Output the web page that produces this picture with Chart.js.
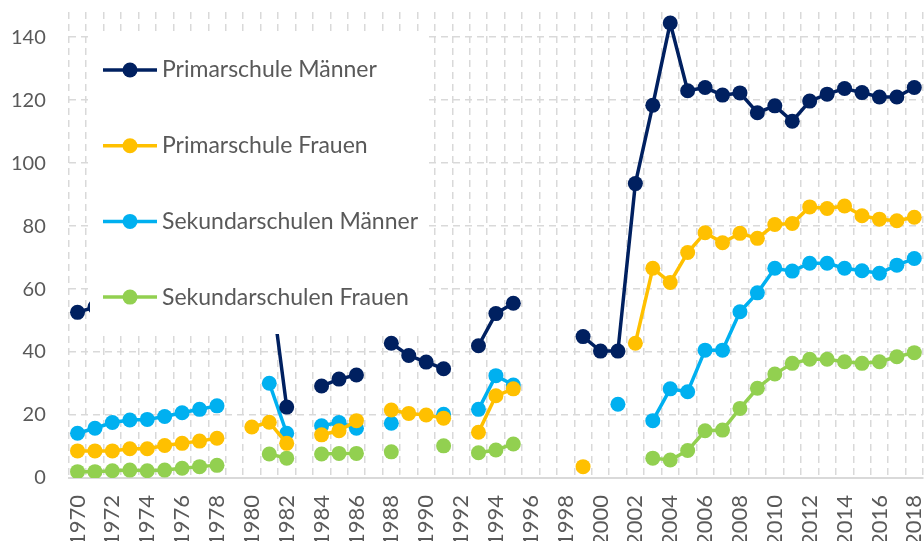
<!DOCTYPE html>
<html>
<head>
<meta charset="utf-8">
<script src="https://cdn.jsdelivr.net/npm/chart.js@4.4.1/dist/chart.umd.min.js"></script>
<style>
  html, body { margin: 0; padding: 0; background: #fff; overflow: hidden; }
  #wrap { width: 924px; height: 541px; overflow: hidden; }
</style>
</head>
<body>
<div id="wrap"><canvas id="myChart" width="924" height="563"></canvas></div>
<script>
const jahre = ['1970','1971','1972','1973','1974','1975','1976','1977','1978','1979',
  '1980','1981','1982','1983','1984','1985','1986','1987','1988','1989',
  '1990','1991','1992','1993','1994','1995','1996','1997','1998','1999',
  '2000','2001','2002','2003','2004','2005','2006','2007','2008','2009',
  '2010','2011','2012','2013','2014','2015','2016','2017','2018']

const primarMaenner = [52.6, 54.3, 56, 57, 58, 59, 60, 61, 62, null,
  null, 65, 22.5, null, 29.2, 31.4, 32.7, null, 42.8, 38.9,
  36.8, 34.7, null, 42.0, 52.2, 55.5, null, null, null, 44.9,
  40.3, 40.3, 93.5, 118.4, 144.5, 123.0, 124.0, 121.6, 122.3, 116.0,
  118.2, 113.3, 119.7, 121.9, 123.7, 122.4, 121.0, 121.0, 124.0]

const primarFrauen = [8.6, 8.6, 8.6, 9.3, 9.3, 10.3, 11.0, 11.7, 12.6, null,
  16.2, 17.7, 11.0, null, 13.7, 15.0, 18.2, null, 21.6, 20.5,
  20.0, 19.0, null, 14.5, 26.1, 28.3, null, null, null, 3.6,
  null, null, 42.8, 66.6, 62.1, 71.6, 77.9, 74.7, 77.7, 76.1,
  80.5, 80.8, 86.1, 85.6, 86.4, 83.3, 82.2, 81.7, 82.8]

const sekundarMaenner = [14.2, 15.8, 17.6, 18.4, 18.6, 19.5, 20.7, 21.8, 22.9, null,
  null, 30.1, 14.2, null, 16.6, 17.6, 15.8, null, 17.4, null,
  null, 20.2, null, 21.8, 32.5, 29.5, null, null, null, null,
  null, 23.4, null, 18.2, 28.3, 27.4, 40.6, 40.6, 52.8, 58.8,
  66.6, 65.7, 68.2, 68.2, 66.6, 65.8, 65.0, 67.6, 69.7]

const sekundarFrauen = [2.0, 2.0, 2.3, 2.5, 2.3, 2.5, 3.1, 3.6, 4.0, null,
  null, 7.6, 6.3, null, 7.6, 7.8, 7.8, null, 8.3, null,
  null, 10.2, null, 8.0, 8.9, 10.8, null, null, null, null,
  null, null, null, 6.3, 5.7, 8.7, 15.0, 15.2, 22.1, 28.5,
  33.0, 36.4, 37.7, 37.7, 36.9, 36.4, 36.9, 38.5, 39.8]

const yTicks = [0, 20, 40, 60, 80, 100, 120, 140]

const FONT = 'Lato, "Noto Sans", sans-serif'
const GRAU = '#595959'
const GITTER = '#d9d9d9'

const serie = (label, data, farbe) => ({
    label: label,
    data: data,
    borderColor: farbe,
    backgroundColor: farbe,
    pointBackgroundColor: farbe,
    pointBorderColor: farbe,
    borderWidth: 3.5,
    pointRadius: 7.5,
    pointBorderWidth: 0,
    spanGaps: false,
    tension: 0
})

// weisse Legendenbox ueber den Daten, wie im Original
const legendeBox = {
    id: 'legendeBox',
    afterDatasetsDraw(chart) {
        const ctx = chart.ctx
        ctx.save()
        ctx.fillStyle = '#fff'
        ctx.fillRect(90, 33, 338, 301)
        chart.data.datasets.forEach((ds, i) => {
            const y = 70 + i * 75.7
            ctx.strokeStyle = ds.borderColor
            ctx.lineWidth = 3.5
            ctx.beginPath()
            ctx.moveTo(103, y)
            ctx.lineTo(157, y)
            ctx.stroke()
            ctx.fillStyle = ds.borderColor
            ctx.beginPath()
            ctx.arc(130, y, 7.5, 0, Math.PI * 2)
            ctx.fill()
            ctx.fillStyle = GRAU
            ctx.font = '23px ' + FONT
            ctx.textBaseline = 'middle'
            ctx.textAlign = 'left'
            ctx.fillText(ds.label, 162, y)
        })
        ctx.restore()
    }
}

// keine automatische Randpolsterung, damit der Plotbereich wie im Original sitzt
const ohnePolster = (scale) => {
    scale.paddingLeft = 0
    scale.paddingRight = 0
    scale.paddingTop = 0
    scale.paddingBottom = 0
}

const ctx = document.getElementById('myChart')
const myChart = new Chart(ctx, {
    type: 'line',
    data: {
        labels: jahre,
        datasets: [
            serie('Primarschule Männer', primarMaenner, '#002060'),
            serie('Primarschule Frauen', primarFrauen, '#FFC000'),
            serie('Sekundarschulen Männer', sekundarMaenner, '#00B0F0'),
            serie('Sekundarschulen Frauen', sekundarFrauen, '#92D050')
        ]
    },
    options: {
        responsive: false,
        animation: false,
        layout: { autoPadding: false, padding: { left: -12, right: 1, top: 12, bottom: 0 } },
        plugins: {
            legend: { display: false },
            tooltip: { enabled: false }
        },
        scales: {
            x: {
                offset: true,
                afterFit: ohnePolster,
                grid: {
                    offset: true,
                    color: GITTER,
                    lineWidth: 1.5,
                    drawTicks: false
                },
                border: { display: true, color: GITTER, width: 2, dash: [7, 5] },
                ticks: {
                    autoSkip: false,
                    maxRotation: 90,
                    minRotation: 90,
                    padding: 17,
                    color: GRAU,
                    font: { family: FONT, size: 22 },
                    callback: function (val, i) { return i % 2 === 0 ? jahre[i] : '' }
                }
            },
            y: {
                min: 0,
                max: 148,
                afterFit: ohnePolster,
                afterBuildTicks: (scale) => {
                    scale.ticks = yTicks.map(v => ({ value: v }))
                },
                grid: {
                    color: GITTER,
                    lineWidth: 1.5,
                    drawTicks: false
                },
                border: { display: false, dash: [7, 5] },
                ticks: {
                    padding: 23,
                    color: GRAU,
                    font: { family: FONT, size: 20 }
                }
            }
        }
    },
    plugins: [legendeBox]
})
</script>
</body>
</html>
